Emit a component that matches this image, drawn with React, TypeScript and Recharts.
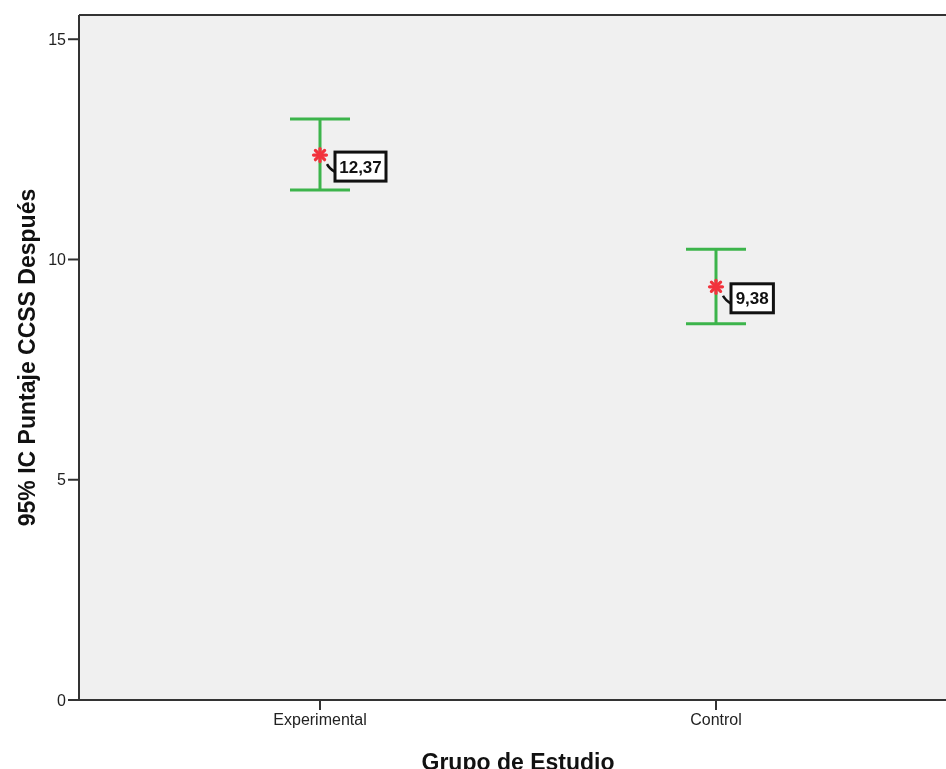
import { ComposedChart, Scatter, XAxis, YAxis, ErrorBar, CartesianGrid, ReferenceLine, Label } from "recharts";

const groups = ["Experimental", "Control"];
const means = [12.37, 9.38];
const ciLower = [11.58, 8.54];
const ciUpper = [13.19, 10.23];
const meanLabels = ["12,37", "9,38"];
const yTicks = [0, 5, 10, 15];
const yMax = 15.55;

const FONT = "'Liberation Sans', Arial, sans-serif";

const data = groups.map((g, i) => ({
  group: g,
  mean: means[i],
  err: [means[i] - ciLower[i], ciUpper[i] - means[i]],
  label: meanLabels[i],
}));

// asterisco rojo + caja con el valor de la media
function MeanMarker(props: any) {
  const { cx, cy, payload } = props;
  const r = 6.5;
  const rays = [0, 45, 90, 135].map(a => {
    const rad = (a * Math.PI) / 180;
    return (
      <line key={a} x1={cx - r * Math.cos(rad)} y1={cy - r * Math.sin(rad)}
        x2={cx + r * Math.cos(rad)} y2={cy + r * Math.sin(rad)}
        stroke="#f2323c" strokeWidth={3.2} strokeLinecap="round" />
    );
  });
  const text = String(payload.label);
  const w = text.length * 8.6 + 8;
  const bx = cx + 15;
  const by = cy - 3;
  return (
    <g>
      <path d={`M${cx + 7},${cy + 9} Q${cx + 9},${cy + 13} ${cx + 15},${cy + 17}`} stroke="#111" strokeWidth={2.5} fill="none" />
      {rays}
      <rect x={bx} y={by} width={w} height={29} fill="#fff" stroke="#111" strokeWidth={3} />
      <text x={bx + w / 2} y={by + 15} textAnchor="middle" dominantBaseline="central"
        fontFamily={FONT} fontWeight="bold" fontSize={17} fill="#111">{text}</text>
    </g>
  );
}

export default function App() {
  return (
    <div style={{ fontFamily: FONT, position: "fixed", left: 8, top: 8 }}>
      <ComposedChart width={938} height={761} data={data} margin={{ top: 7, right: 0, bottom: 0, left: 0 }}>
        <CartesianGrid fill="#f0f0f0" horizontal={false} vertical={false} />
        <XAxis dataKey="group" type="category" scale="point" padding={{ left: 241, right: 230 }}
          height={69} tickSize={10} tickMargin={4} interval={0}
          axisLine={{ stroke: "#333", strokeWidth: 2 }} tickLine={{ stroke: "#333", strokeWidth: 2 }}
          tick={{ fill: "#222", fontSize: 16, fontFamily: FONT }}>
          <Label content={(p: any) => (
            <text x={p.viewBox.x + 439} y={p.viewBox.y + 70} textAnchor="middle"
              fontFamily={FONT} fontWeight="bold" fontSize={23} fill="#111">Grupo de Estudio</text>
          )} />
        </XAxis>
        <YAxis type="number" domain={[0, yMax]} ticks={yTicks} allowDataOverflow width={71}
          tickSize={11} tickMargin={2} interval={0}
          axisLine={{ stroke: "#333", strokeWidth: 2 }} tickLine={{ stroke: "#333", strokeWidth: 2 }}
          tick={{ fill: "#222", fontSize: 16, fontFamily: FONT }}>
          <Label content={(p: any) => (
            <text x={p.viewBox.x + 19} y={p.viewBox.y + p.viewBox.height / 2}
              transform={`rotate(-90 ${p.viewBox.x + 19} ${p.viewBox.y + p.viewBox.height / 2})`}
              textAnchor="middle" dominantBaseline="central"
              fontFamily={FONT} fontWeight="bold" fontSize={23} fill="#111">95% IC Puntaje CCSS Después</text>
          )} />
        </YAxis>
        <ReferenceLine y={yMax} stroke="#333" strokeWidth={2} />
        <Scatter dataKey="mean" isAnimationActive={false} shape={<MeanMarker />}>
          <ErrorBar dataKey="err" direction="y" width={30} stroke="#3cb44b" strokeWidth={3} isAnimationActive={false} />
        </Scatter>
      </ComposedChart>
    </div>
  );
}
